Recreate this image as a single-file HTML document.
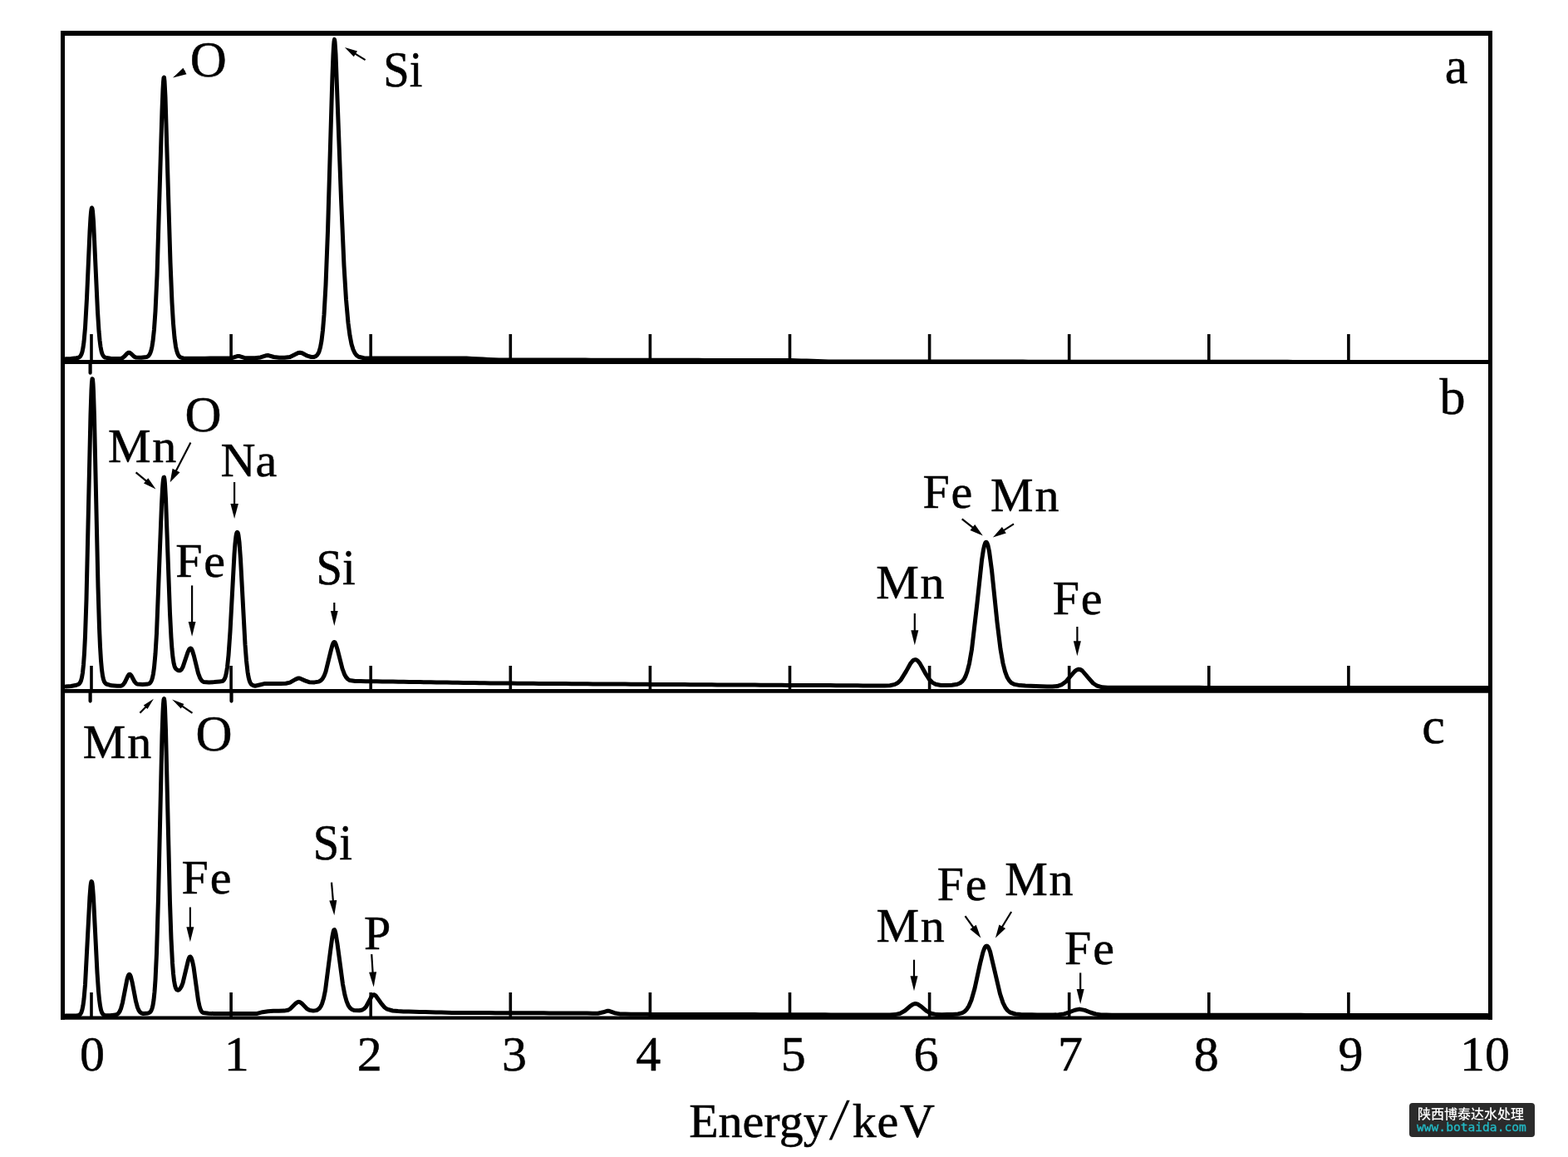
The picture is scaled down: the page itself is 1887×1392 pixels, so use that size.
<!DOCTYPE html>
<html><head><meta charset="utf-8"><title>EDS spectra</title>
<style>html,body{margin:0;padding:0;background:#fff;}svg{display:block;}</style>
</head><body><svg width="1887" height="1392" viewBox="0 0 1887 1392"><path d="M79.0 431.7 L85.5 431.5 L92.0 430.8 L94.5 430.2 L96.0 429.3 L97.0 428.1 L98.0 426.2 L99.0 423.2 L100.0 418.3 L101.0 411.1 L102.5 394.3 L104.5 358.9 L108.0 278.8 L109.0 261.6 L109.5 255.6 L110.0 251.7 L110.5 250.0 L111.0 250.8 L111.5 253.8 L112.5 266.1 L117.5 374.8 L119.0 398.3 L120.0 409.3 L121.0 417.1 L122.0 422.4 L123.0 425.7 L124.0 427.8 L125.0 429.1 L126.5 430.1 L133.0 431.3 L139.5 431.6 L145.0 431.6 L147.5 430.6 L150.0 428.5 L153.0 425.2 L154.0 424.5 L155.0 424.2 L156.0 424.3 L157.5 425.3 L161.5 429.1 L163.5 430.0 L170.0 430.2 L176.5 429.4 L178.0 428.7 L179.0 427.8 L180.0 426.4 L181.0 424.3 L182.0 421.2 L183.0 416.7 L184.0 410.4 L185.5 396.2 L187.0 374.6 L189.0 331.6 L195.0 132.8 L196.0 107.8 L196.5 99.1 L197.0 93.7 L197.5 93.1 L198.0 97.7 L199.0 116.8 L205.0 315.7 L207.0 364.0 L208.5 389.1 L210.0 406.1 L211.5 416.9 L212.5 421.6 L213.5 424.8 L214.5 427.1 L215.5 428.5 L217.0 429.8 L220.5 430.9 L227.0 431.2 L233.5 431.3 L240.0 431.2 L246.5 431.2 L253.0 431.1 L259.5 431.1 L266.0 431.1 L272.5 431.0 L279.0 430.7 L285.5 428.6 L287.5 428.4 L294.0 430.4 L300.5 430.8 L307.0 430.7 L313.5 429.9 L320.0 427.8 L323.0 427.6 L329.5 429.5 L336.0 430.3 L342.5 430.3 L349.0 429.5 L355.5 426.3 L359.0 424.5 L361.0 424.2 L363.5 424.7 L370.0 428.2 L374.5 429.5 L378.0 429.4 L380.0 428.6 L381.5 427.4 L383.0 425.2 L384.0 423.0 L385.5 417.9 L387.0 409.7 L388.5 397.2 L390.0 378.9 L392.0 343.2 L394.5 277.8 L400.0 90.8 L401.0 65.7 L401.5 56.5 L402.0 50.1 L402.5 47.4 L403.0 50.5 L404.0 65.2 L410.5 239.0 L414.0 319.6 L416.5 360.4 L419.0 388.5 L421.0 403.6 L423.0 413.9 L425.0 420.5 L427.0 424.8 L429.0 427.4 L431.5 429.2 L438.0 430.8 L444.5 431.0 L451.0 431.0 L457.5 431.0 L464.0 431.0 L470.5 431.0 L477.0 431.0 L483.5 431.0 L490.0 431.0 L496.5 431.0 L503.0 431.0 L509.5 431.0 L516.0 431.0 L522.5 431.0 L529.0 431.0 L535.5 431.0 L542.0 431.0 L548.5 431.0 L555.0 431.0 L561.5 431.1 L568.0 431.4 L574.5 431.7 L581.0 432.1 L587.5 432.4 L594.0 432.7 L600.5 433.0 L607.0 433.0 L613.5 433.0 L620.0 433.0 L626.5 433.0 L633.0 433.0 L639.5 433.1 L646.0 433.1 L652.5 433.1 L659.0 433.1 L665.5 433.1 L672.0 433.1 L678.5 433.1 L685.0 433.1 L691.5 433.1 L698.0 433.1 L704.5 433.1 L711.0 433.2 L717.5 433.2 L724.0 433.2 L730.5 433.2 L737.0 433.2 L743.5 433.2 L750.0 433.2 L756.5 433.2 L763.0 433.2 L769.5 433.2 L776.0 433.3 L782.5 433.3 L789.0 433.3 L795.5 433.3 L802.0 433.3 L808.5 433.3 L815.0 433.3 L821.5 433.3 L828.0 433.3 L834.5 433.3 L841.0 433.3 L847.5 433.4 L854.0 433.4 L860.5 433.4 L867.0 433.4 L873.5 433.4 L880.0 433.4 L886.5 433.4 L893.0 433.4 L899.5 433.4 L906.0 433.4 L912.5 433.4 L919.0 433.5 L925.5 433.5 L932.0 433.5 L938.5 433.5 L945.0 433.5 L951.5 433.5 L958.0 433.7 L964.5 433.9 L971.0 434.1 L977.5 434.3 L984.0 434.5 L990.5 434.7 L997.0 434.9 L1003.5 435.0 L1010.0 435.0 L1016.5 435.0 L1023.0 435.0 L1029.5 435.0 L1036.0 435.0 L1042.5 435.0 L1049.0 435.0 L1055.5 435.0 L1062.0 435.0 L1068.5 435.0 L1075.0 435.0 L1081.5 435.1 L1088.0 435.1 L1094.5 435.1 L1101.0 435.1 L1107.5 435.1 L1114.0 435.1 L1120.5 435.1 L1127.0 435.1 L1133.5 435.1 L1140.0 435.1 L1146.5 435.1 L1153.0 435.1 L1159.5 435.1 L1166.0 435.1 L1172.5 435.1 L1179.0 435.1 L1185.5 435.1 L1192.0 435.1 L1198.5 435.1 L1205.0 435.1 L1211.5 435.1 L1218.0 435.1 L1224.5 435.1 L1231.0 435.1 L1237.5 435.2 L1244.0 435.2 L1250.5 435.2 L1257.0 435.2 L1263.5 435.2 L1270.0 435.2 L1276.5 435.2 L1283.0 435.2 L1289.5 435.2 L1296.0 435.2 L1302.5 435.2 L1309.0 435.2 L1315.5 435.2 L1322.0 435.2 L1328.5 435.2 L1335.0 435.2 L1341.5 435.2 L1348.0 435.2 L1354.5 435.2 L1361.0 435.2 L1367.5 435.2 L1374.0 435.2 L1380.5 435.2 L1387.0 435.2 L1393.5 435.2 L1400.0 435.3 L1406.5 435.3 L1413.0 435.3 L1419.5 435.3 L1426.0 435.3 L1432.5 435.3 L1439.0 435.3 L1445.5 435.3 L1452.0 435.3 L1458.5 435.3 L1465.0 435.3 L1471.5 435.3 L1478.0 435.3 L1484.5 435.3 L1491.0 435.3 L1497.5 435.3 L1504.0 435.3 L1510.5 435.3 L1517.0 435.3 L1523.5 435.3 L1530.0 435.3 L1536.5 435.3 L1543.0 435.3 L1549.5 435.3 L1556.0 435.4 L1562.5 435.4 L1569.0 435.4 L1575.5 435.4 L1582.0 435.4 L1588.5 435.4 L1595.0 435.4 L1601.5 435.4 L1608.0 435.4 L1614.5 435.4 L1621.0 435.4 L1627.5 435.4 L1634.0 435.4 L1640.5 435.4 L1647.0 435.4 L1653.5 435.4 L1660.0 435.4 L1666.5 435.4 L1673.0 435.4 L1679.5 435.4 L1686.0 435.4 L1692.5 435.4 L1699.0 435.4 L1705.5 435.4 L1712.0 435.5 L1718.5 435.5 L1725.0 435.5 L1731.5 435.5 L1738.0 435.5 L1744.5 435.5 L1751.0 435.5 L1757.5 435.5 L1764.0 435.5 L1770.5 435.5 L1777.0 435.5 L1783.5 435.5 L1790.0 435.5" fill="none" stroke="#000" stroke-width="5" stroke-linejoin="round" stroke-linecap="round"/><path d="M79.0 826.0 L85.5 825.5 L92.0 824.3 L94.5 823.3 L95.5 822.4 L96.5 821.1 L97.5 818.9 L98.5 815.2 L99.5 809.3 L100.5 799.8 L101.5 785.6 L102.5 765.3 L104.0 720.9 L109.0 498.5 L110.0 468.9 L110.5 460.0 L111.0 455.8 L111.5 456.2 L112.0 461.4 L112.5 471.1 L113.5 502.2 L118.0 706.0 L119.5 754.9 L120.5 778.1 L121.5 794.6 L122.5 805.7 L123.5 812.9 L124.5 817.4 L125.5 820.1 L126.5 821.7 L128.0 823.0 L134.5 824.8 L141.0 825.3 L145.0 825.3 L147.0 824.6 L148.5 823.3 L150.0 821.3 L154.0 813.1 L155.0 811.7 L155.5 811.4 L156.0 811.2 L156.5 811.3 L157.0 811.6 L158.0 812.8 L162.0 820.2 L163.5 822.0 L165.0 823.0 L171.5 823.4 L178.0 823.0 L179.5 822.5 L180.5 821.7 L181.5 820.5 L182.5 818.5 L183.5 815.3 L184.5 810.4 L185.5 803.2 L187.0 786.8 L188.5 762.1 L194.5 607.2 L195.5 588.3 L196.0 581.6 L196.5 576.9 L197.0 574.4 L197.5 574.2 L198.0 576.8 L198.5 582.1 L199.5 600.1 L204.5 737.8 L206.0 767.2 L207.0 781.1 L208.0 790.9 L209.0 797.4 L210.0 801.4 L211.0 803.7 L212.0 805.0 L214.0 806.3 L215.5 806.8 L216.5 806.7 L217.5 806.2 L218.5 805.2 L220.0 802.6 L226.0 784.7 L227.5 781.5 L228.5 780.4 L229.0 780.1 L229.5 780.1 L230.0 780.3 L230.5 780.8 L231.5 782.8 L233.5 789.5 L238.5 809.8 L240.5 815.2 L242.0 817.9 L243.5 819.5 L245.0 820.5 L251.5 821.1 L258.0 820.6 L264.5 819.9 L267.5 819.6 L268.5 819.0 L269.5 818.0 L270.5 816.3 L271.5 813.5 L272.5 809.1 L273.5 802.8 L275.0 788.6 L277.0 760.0 L282.0 666.8 L283.0 653.7 L284.0 644.9 L284.5 642.3 L285.0 640.8 L285.5 640.3 L286.0 640.6 L286.5 641.8 L287.0 644.2 L288.0 652.3 L289.5 672.6 L295.0 775.4 L296.5 795.0 L298.0 808.3 L299.0 814.3 L300.0 818.4 L301.0 821.0 L302.0 822.7 L303.0 823.8 L305.0 824.8 L307.0 825.2 L313.5 823.7 L318.0 822.6 L324.5 822.6 L331.0 822.5 L337.5 822.5 L344.0 822.2 L349.0 821.1 L355.5 817.4 L358.5 816.1 L360.5 816.0 L367.0 818.9 L372.0 820.7 L378.5 820.9 L383.5 820.1 L386.0 818.7 L388.0 816.7 L390.0 813.3 L392.0 808.1 L398.5 781.6 L400.0 776.3 L401.0 773.8 L401.5 772.9 L402.0 772.4 L402.5 772.4 L403.0 772.8 L404.0 774.6 L406.0 780.9 L412.0 804.5 L414.5 811.2 L416.5 814.8 L418.5 817.0 L421.0 818.6 L427.5 819.5 L434.0 819.6 L440.5 819.7 L447.0 819.7 L453.5 819.8 L460.0 819.9 L466.5 820.0 L473.0 820.1 L479.5 820.2 L486.0 820.3 L492.5 820.4 L499.0 820.5 L505.5 820.6 L512.0 820.7 L518.5 820.8 L525.0 820.9 L531.5 821.0 L538.0 821.1 L544.5 821.2 L551.0 821.3 L557.5 821.4 L564.0 821.5 L570.5 821.6 L577.0 821.7 L583.5 821.8 L590.0 821.9 L596.5 821.9 L603.0 822.0 L609.5 822.1 L616.0 822.1 L622.5 822.2 L629.0 822.2 L635.5 822.3 L642.0 822.3 L648.5 822.4 L655.0 822.4 L661.5 822.5 L668.0 822.5 L674.5 822.6 L681.0 822.6 L687.5 822.7 L694.0 822.7 L700.5 822.8 L707.0 822.8 L713.5 822.9 L720.0 822.9 L726.5 822.9 L733.0 823.0 L739.5 823.0 L746.0 823.1 L752.5 823.1 L759.0 823.2 L765.5 823.2 L772.0 823.3 L778.5 823.3 L785.0 823.4 L791.5 823.4 L798.0 823.5 L804.5 823.5 L811.0 823.6 L817.5 823.6 L824.0 823.6 L830.5 823.7 L837.0 823.7 L843.5 823.8 L850.0 823.8 L856.5 823.8 L863.0 823.9 L869.5 823.9 L876.0 823.9 L882.5 824.0 L889.0 824.0 L895.5 824.1 L902.0 824.1 L908.5 824.1 L915.0 824.2 L921.5 824.2 L928.0 824.2 L934.5 824.3 L941.0 824.3 L947.5 824.4 L954.0 824.4 L960.5 824.4 L967.0 824.5 L973.5 824.5 L980.0 824.5 L986.5 824.6 L993.0 824.6 L999.5 824.6 L1006.0 824.7 L1012.5 824.7 L1019.0 824.8 L1025.5 824.8 L1032.0 824.8 L1038.5 824.9 L1045.0 824.9 L1051.5 824.9 L1058.0 825.0 L1064.5 825.0 L1071.0 824.7 L1077.0 823.4 L1080.5 821.5 L1084.0 818.1 L1090.5 807.6 L1096.0 797.8 L1098.5 794.9 L1100.0 793.9 L1101.5 793.6 L1103.0 794.0 L1104.5 795.0 L1107.0 798.1 L1113.5 809.8 L1118.5 817.6 L1122.0 821.1 L1126.0 823.3 L1132.5 824.5 L1139.0 824.6 L1145.5 824.2 L1152.0 823.3 L1155.5 821.8 L1158.0 819.8 L1160.0 817.3 L1162.0 813.5 L1164.0 808.0 L1166.5 798.3 L1169.5 781.3 L1176.0 725.4 L1181.5 674.2 L1183.5 661.2 L1184.5 656.7 L1185.5 653.7 L1186.0 652.8 L1186.5 652.3 L1187.0 652.3 L1187.5 652.7 L1188.0 653.5 L1189.0 656.3 L1190.5 663.4 L1193.5 685.8 L1200.0 748.6 L1204.0 780.8 L1207.0 798.0 L1209.5 807.9 L1212.0 814.6 L1214.5 818.8 L1217.0 821.4 L1221.0 823.4 L1227.5 824.6 L1234.0 825.1 L1240.5 825.3 L1247.0 825.5 L1253.5 825.7 L1260.0 825.9 L1266.5 825.9 L1273.0 825.4 L1278.0 823.6 L1282.5 820.3 L1289.0 812.7 L1293.5 807.6 L1296.0 805.8 L1298.0 805.2 L1300.0 805.5 L1302.5 807.0 L1309.0 814.6 L1315.5 822.0 L1320.0 825.0 L1326.5 826.8 L1333.0 827.2 L1339.5 827.3 L1346.0 827.3 L1352.5 827.3 L1359.0 827.3 L1365.5 827.3 L1372.0 827.3 L1378.5 827.3 L1385.0 827.3 L1391.5 827.3 L1398.0 827.3 L1404.5 827.3 L1411.0 827.3 L1417.5 827.3 L1424.0 827.3 L1430.5 827.3 L1437.0 827.3 L1443.5 827.3 L1450.0 827.4 L1456.5 827.4 L1463.0 827.4 L1469.5 827.4 L1476.0 827.4 L1482.5 827.4 L1489.0 827.4 L1495.5 827.4 L1502.0 827.4 L1508.5 827.4 L1515.0 827.4 L1521.5 827.4 L1528.0 827.4 L1534.5 827.4 L1541.0 827.4 L1547.5 827.4 L1554.0 827.4 L1560.5 827.4 L1567.0 827.4 L1573.5 827.4 L1580.0 827.4 L1586.5 827.4 L1593.0 827.4 L1599.5 827.4 L1606.0 827.4 L1612.5 827.4 L1619.0 827.4 L1625.5 827.4 L1632.0 827.4 L1638.5 827.4 L1645.0 827.4 L1651.5 827.4 L1658.0 827.4 L1664.5 827.4 L1671.0 827.4 L1677.5 827.5 L1684.0 827.5 L1690.5 827.5 L1697.0 827.5 L1703.5 827.5 L1710.0 827.5 L1716.5 827.5 L1723.0 827.5 L1729.5 827.5 L1736.0 827.5 L1742.5 827.5 L1749.0 827.5 L1755.5 827.5 L1762.0 827.5 L1768.5 827.5 L1775.0 827.5 L1781.5 827.5 L1788.0 827.5 L1790.0 827.5" fill="none" stroke="#000" stroke-width="5" stroke-linejoin="round" stroke-linecap="round"/><path d="M79.0 1222.0 L85.5 1222.0 L92.0 1221.9 L94.5 1221.6 L96.0 1220.8 L97.0 1219.7 L98.0 1217.8 L99.0 1214.6 L100.0 1209.5 L101.0 1201.9 L102.5 1184.5 L108.0 1078.6 L109.0 1066.0 L109.5 1062.3 L110.0 1060.5 L110.5 1060.7 L111.0 1062.9 L111.5 1067.0 L112.5 1080.1 L117.0 1170.2 L118.5 1192.3 L119.5 1202.7 L120.5 1210.0 L121.5 1214.9 L122.5 1218.0 L123.5 1219.8 L124.5 1220.8 L126.0 1221.5 L132.5 1221.7 L139.0 1221.1 L141.0 1220.4 L142.5 1219.1 L144.0 1217.0 L145.5 1213.5 L147.5 1206.3 L153.0 1178.0 L154.0 1174.6 L154.5 1173.4 L155.0 1172.7 L155.5 1172.3 L156.0 1172.4 L156.5 1173.0 L157.5 1175.3 L159.0 1181.3 L163.5 1204.7 L165.5 1212.0 L167.0 1215.5 L168.5 1217.7 L170.0 1218.8 L172.5 1219.5 L178.0 1219.0 L180.0 1218.2 L181.0 1217.3 L182.0 1215.8 L183.0 1213.4 L184.0 1209.4 L185.0 1203.0 L186.0 1193.3 L187.0 1179.1 L188.5 1146.9 L190.5 1080.4 L195.0 884.9 L196.0 856.4 L196.5 847.2 L197.0 841.8 L197.5 840.5 L198.0 843.6 L198.5 851.3 L199.5 878.5 L204.5 1085.7 L206.0 1129.3 L207.5 1158.5 L208.5 1171.3 L209.5 1179.9 L210.5 1185.4 L211.5 1188.7 L212.5 1190.4 L213.0 1190.9 L213.5 1191.2 L214.5 1191.2 L215.5 1190.7 L217.0 1189.1 L218.5 1186.5 L220.0 1182.7 L226.5 1155.3 L227.5 1152.5 L228.0 1151.6 L228.5 1151.1 L229.0 1151.0 L229.5 1151.3 L230.5 1153.2 L231.5 1156.2 L233.0 1163.4 L238.5 1203.3 L240.0 1210.6 L241.0 1213.8 L242.0 1216.0 L243.0 1217.4 L244.5 1218.5 L251.0 1219.3 L257.5 1219.4 L264.0 1219.5 L270.5 1219.5 L277.0 1219.5 L283.5 1219.5 L290.0 1219.5 L296.5 1219.4 L303.0 1219.4 L309.5 1219.4 L316.0 1217.7 L322.5 1216.8 L329.0 1216.3 L335.5 1216.2 L342.0 1216.1 L346.5 1215.3 L349.5 1213.6 L356.0 1207.1 L358.0 1205.7 L359.5 1205.3 L361.0 1205.7 L363.0 1207.1 L369.5 1213.7 L372.5 1215.4 L377.0 1216.1 L380.5 1215.6 L382.5 1214.7 L384.5 1213.0 L386.0 1210.9 L387.5 1207.7 L389.5 1201.2 L391.5 1191.5 L398.0 1141.0 L400.0 1126.4 L401.0 1121.4 L401.5 1119.7 L402.0 1118.7 L402.5 1118.6 L403.0 1119.5 L404.0 1123.1 L406.0 1135.3 L412.5 1184.1 L415.0 1197.2 L417.0 1204.4 L419.0 1209.3 L421.0 1212.4 L423.0 1214.2 L426.0 1215.5 L432.5 1215.8 L436.0 1215.0 L438.5 1213.4 L440.5 1211.2 L447.0 1199.2 L448.0 1197.7 L449.0 1196.9 L449.5 1196.7 L450.5 1196.8 L452.0 1197.8 L458.5 1206.8 L462.5 1211.7 L466.0 1214.2 L472.5 1216.0 L479.0 1216.6 L485.5 1216.9 L492.0 1217.1 L498.5 1217.3 L505.0 1217.5 L511.5 1217.6 L518.0 1217.8 L524.5 1217.9 L531.0 1218.1 L537.5 1218.2 L544.0 1218.4 L550.5 1218.5 L557.0 1218.5 L563.5 1218.5 L570.0 1218.6 L576.5 1218.6 L583.0 1218.6 L589.5 1218.6 L596.0 1218.7 L602.5 1218.7 L609.0 1218.7 L615.5 1218.7 L622.0 1218.7 L628.5 1218.8 L635.0 1218.8 L641.5 1218.8 L648.0 1218.8 L654.5 1218.8 L661.0 1218.9 L667.5 1218.9 L674.0 1218.9 L680.5 1218.9 L687.0 1219.0 L693.5 1219.0 L700.0 1219.0 L706.5 1219.1 L713.0 1219.3 L719.5 1219.2 L726.0 1217.8 L730.5 1216.3 L733.0 1216.3 L739.5 1218.7 L746.0 1219.9 L752.5 1220.1 L759.0 1220.3 L765.5 1220.3 L772.0 1220.3 L778.5 1220.3 L785.0 1220.4 L791.5 1220.4 L798.0 1220.4 L804.5 1220.4 L811.0 1220.4 L817.5 1220.4 L824.0 1220.4 L830.5 1220.5 L837.0 1220.5 L843.5 1220.5 L850.0 1220.5 L856.5 1220.5 L863.0 1220.5 L869.5 1220.6 L876.0 1220.6 L882.5 1220.6 L889.0 1220.6 L895.5 1220.6 L902.0 1220.6 L908.5 1220.6 L915.0 1220.7 L921.5 1220.7 L928.0 1220.7 L934.5 1220.7 L941.0 1220.7 L947.5 1220.7 L954.0 1220.8 L960.5 1220.8 L967.0 1220.8 L973.5 1220.8 L980.0 1220.8 L986.5 1220.8 L993.0 1220.8 L999.5 1220.9 L1006.0 1220.9 L1012.5 1220.9 L1019.0 1220.9 L1025.5 1220.9 L1032.0 1220.9 L1038.5 1220.9 L1045.0 1221.0 L1051.5 1221.0 L1058.0 1221.0 L1064.5 1221.0 L1071.0 1220.9 L1077.5 1220.6 L1083.5 1219.2 L1089.0 1216.0 L1095.5 1210.3 L1099.0 1208.1 L1101.5 1207.5 L1104.0 1207.9 L1108.5 1210.8 L1115.0 1216.4 L1120.5 1219.3 L1127.0 1220.6 L1133.5 1220.7 L1140.0 1220.6 L1146.5 1220.5 L1153.0 1219.9 L1158.0 1218.6 L1161.0 1216.8 L1163.5 1214.2 L1166.0 1210.3 L1169.0 1203.2 L1173.0 1189.2 L1179.5 1159.4 L1183.0 1145.5 L1184.5 1141.4 L1185.5 1139.5 L1186.5 1138.4 L1187.0 1138.2 L1187.5 1138.1 L1188.0 1138.2 L1189.0 1139.1 L1190.0 1140.8 L1191.5 1144.6 L1198.0 1172.2 L1203.5 1195.8 L1207.0 1206.4 L1210.0 1212.4 L1212.5 1215.6 L1215.5 1218.0 L1222.0 1220.0 L1228.5 1220.5 L1235.0 1220.7 L1241.5 1220.8 L1248.0 1220.9 L1254.5 1221.0 L1261.0 1221.0 L1267.5 1221.0 L1274.0 1220.8 L1280.5 1219.9 L1287.0 1217.8 L1293.5 1215.2 L1299.0 1214.1 L1305.5 1215.4 L1312.0 1218.0 L1318.5 1220.0 L1325.0 1220.9 L1331.5 1221.1 L1338.0 1221.2 L1344.5 1221.2 L1351.0 1221.2 L1357.5 1221.2 L1364.0 1221.2 L1370.5 1221.2 L1377.0 1221.2 L1383.5 1221.2 L1390.0 1221.2 L1396.5 1221.2 L1403.0 1221.2 L1409.5 1221.2 L1416.0 1221.2 L1422.5 1221.2 L1429.0 1221.3 L1435.5 1221.3 L1442.0 1221.3 L1448.5 1221.3 L1455.0 1221.3 L1461.5 1221.3 L1468.0 1221.3 L1474.5 1221.3 L1481.0 1221.3 L1487.5 1221.3 L1494.0 1221.3 L1500.5 1221.3 L1507.0 1221.3 L1513.5 1221.3 L1520.0 1221.3 L1526.5 1221.3 L1533.0 1221.3 L1539.5 1221.3 L1546.0 1221.3 L1552.5 1221.3 L1559.0 1221.3 L1565.5 1221.3 L1572.0 1221.4 L1578.5 1221.4 L1585.0 1221.4 L1591.5 1221.4 L1598.0 1221.4 L1604.5 1221.4 L1611.0 1221.4 L1617.5 1221.4 L1624.0 1221.4 L1630.5 1221.4 L1637.0 1221.4 L1643.5 1221.4 L1650.0 1221.4 L1656.5 1221.4 L1663.0 1221.4 L1669.5 1221.4 L1676.0 1221.4 L1682.5 1221.4 L1689.0 1221.4 L1695.5 1221.4 L1702.0 1221.4 L1708.5 1221.4 L1715.0 1221.4 L1721.5 1221.5 L1728.0 1221.5 L1734.5 1221.5 L1741.0 1221.5 L1747.5 1221.5 L1754.0 1221.5 L1760.5 1221.5 L1767.0 1221.5 L1773.5 1221.5 L1780.0 1221.5 L1786.5 1221.5 L1790.0 1221.5" fill="none" stroke="#000" stroke-width="5" stroke-linejoin="round" stroke-linecap="round"/><g stroke="#000" fill="none"><path d="M73 40H1796" stroke-width="6"/><path d="M73 1224.6H1796" stroke-width="4.2"/><path d="M75.5 37V1226.7M1793.5 37V1226.7" stroke-width="5"/><path d="M73 435.5H1796" stroke-width="5"/><path d="M73 831.4H1796" stroke-width="4.8"/></g><path d="M110.0 402V435M110.0 801V831M110.0 1194V1224M278.1 402V435M278.1 801V831M278.1 1194V1224M446.2 402V435M446.2 801V831M446.2 1194V1224M614.3 402V435M614.3 801V831M614.3 1194V1224M782.4 402V435M782.4 801V831M782.4 1194V1224M950.5 402V435M950.5 801V831M950.5 1194V1224M1118.6 402V435M1118.6 801V831M1118.6 1194V1224M1286.7 402V435M1286.7 801V831M1286.7 1194V1224M1454.8 402V435M1454.8 801V831M1454.8 1194V1224M1622.9 402V435M1622.9 801V831M1622.9 1194V1224" stroke="#000" stroke-width="3.6" fill="none"/><path d="M108.6 436V448.7M108.6 832V843.6M278.5 832V843.6" stroke="#000" stroke-width="4.2" stroke-linecap="round" fill="none"/><g font-family="Liberation Serif, serif" fill="#000" stroke="#000" stroke-width="0.5"><text x="228.8" y="91.9" font-size="61" text-anchor="start">O</text><text x="0" y="0" font-size="58" transform="translate(461.2 104.4) scale(0.975 1.07)">Si</text><text x="1738.7" y="99.9" font-size="62" text-anchor="start">a</text><text x="129.9" y="556.0" font-size="58" text-anchor="start" letter-spacing="1.8">Mn</text><text x="222.4" y="518.9" font-size="61" text-anchor="start">O</text><text x="265.6" y="573.0" font-size="58" text-anchor="start">Na</text><text x="211.2" y="694.0" font-size="58" text-anchor="start" letter-spacing="1.9">Fe</text><text x="0" y="0" font-size="58" transform="translate(380.6 703.4) scale(0.975 1.07)">Si</text><text x="1110.4" y="611.0" font-size="58" text-anchor="start" letter-spacing="1.9">Fe</text><text x="1192.1" y="614.5" font-size="58" text-anchor="start" letter-spacing="1.8">Mn</text><text x="1054.2" y="719.5" font-size="58" text-anchor="start" letter-spacing="1.8">Mn</text><text x="1266.7" y="738.5" font-size="58" text-anchor="start" letter-spacing="1.9">Fe</text><text x="1732.5" y="498.0" font-size="62" text-anchor="start">b</text><text x="99.8" y="911.5" font-size="58" text-anchor="start" letter-spacing="1.8">Mn</text><text x="235.6" y="902.9" font-size="61" text-anchor="start">O</text><text x="218.6" y="1075.0" font-size="58" text-anchor="start" letter-spacing="1.9">Fe</text><text x="0" y="0" font-size="58" transform="translate(376.8 1034.4) scale(0.975 1.07)">Si</text><text x="438.0" y="1142.0" font-size="58" text-anchor="start">P</text><text x="1054.4" y="1132.5" font-size="58" text-anchor="start" letter-spacing="1.8">Mn</text><text x="1127.7" y="1082.5" font-size="58" text-anchor="start" letter-spacing="1.9">Fe</text><text x="1209.2" y="1077.0" font-size="58" text-anchor="start" letter-spacing="1.8">Mn</text><text x="1281.1" y="1159.5" font-size="58" text-anchor="start" letter-spacing="1.9">Fe</text><text x="1711.3" y="893.9" font-size="62" text-anchor="start">c</text><text x="111.1" y="1288.0" font-size="60" text-anchor="middle">0</text><text x="284.7" y="1288.0" font-size="60" text-anchor="middle">1</text><text x="444.8" y="1288.0" font-size="60" text-anchor="middle">2</text><text x="619.0" y="1288.0" font-size="60" text-anchor="middle">3</text><text x="780.2" y="1288.0" font-size="60" text-anchor="middle">4</text><text x="954.7" y="1288.0" font-size="60" text-anchor="middle">5</text><text x="1114.6" y="1288.0" font-size="60" text-anchor="middle">6</text><text x="1288.0" y="1288.0" font-size="60" text-anchor="middle">7</text><text x="1451.8" y="1288.0" font-size="60" text-anchor="middle">8</text><text x="1625.6" y="1288.0" font-size="60" text-anchor="middle">9</text><text x="1786.9" y="1288.0" font-size="60" text-anchor="middle">10</text><text x="829.2" y="1368.0" font-size="58" text-anchor="start">Energy</text><text x="0" y="0" font-size="58" stroke="none" font-family="WenQuanYi Zen Hei, Liberation Sans, sans-serif" transform="translate(996.5 1361.8) scale(0.9 0.964)">/</text><text x="1025.8 1055.5 1083.0" y="1368" font-size="58">keV</text></g><line x1="222.6" y1="85.5" x2="220.7" y2="86.5" stroke="#000" stroke-width="2.2"/><polygon points="220.4,81.8 208.0,93.5 224.5,89.3" fill="#000"/><line x1="439.6" y1="72.1" x2="426.2" y2="63.9" stroke="#000" stroke-width="2.2"/><polygon points="430.0,61.5 414.9,57.0 425.8,68.3" fill="#000"/><line x1="163.6" y1="568.3" x2="177.2" y2="579.7" stroke="#000" stroke-width="2.2"/><polygon points="173.0,581.6 187.5,588.4 178.3,575.3" fill="#000"/><line x1="229.4" y1="532.4" x2="211.2" y2="567.8" stroke="#000" stroke-width="2.2"/><polygon points="207.6,563.7 204.7,580.3 216.5,568.3" fill="#000"/><line x1="282.1" y1="580.0" x2="282.1" y2="608.0" stroke="#000" stroke-width="2.2"/><polygon points="277.4,606.0 282.1,624.0 286.9,606.0" fill="#000"/><line x1="231.1" y1="704.4" x2="231.1" y2="750.1" stroke="#000" stroke-width="2.2"/><polygon points="226.7,748.1 231.1,765.8 235.5,748.1" fill="#000"/><line x1="402.3" y1="725.0" x2="402.3" y2="737.0" stroke="#000" stroke-width="2.2"/><polygon points="397.9,735.0 402.3,753.0 406.7,735.0" fill="#000"/><line x1="1157.7" y1="624.3" x2="1171.9" y2="635.7" stroke="#000" stroke-width="2.2"/><polygon points="1167.5,638.0 1182.8,644.5 1173.2,631.0" fill="#000"/><line x1="1220.0" y1="630.4" x2="1206.7" y2="638.9" stroke="#000" stroke-width="2.2"/><polygon points="1205.9,634.1 1194.9,646.5 1210.8,641.6" fill="#000"/><line x1="1100.8" y1="738.0" x2="1100.8" y2="760.2" stroke="#000" stroke-width="2.2"/><polygon points="1096.3,758.2 1100.8,776.2 1105.3,758.2" fill="#000"/><line x1="1296.4" y1="754.0" x2="1296.4" y2="773.2" stroke="#000" stroke-width="2.2"/><polygon points="1291.9,771.2 1296.4,789.2 1300.9,771.2" fill="#000"/><line x1="168.4" y1="857.8" x2="176.5" y2="849.4" stroke="#000" stroke-width="2.2"/><polygon points="177.5,853.1 184.9,840.8 172.8,848.6" fill="#000"/><line x1="231.5" y1="857.8" x2="217.9" y2="848.7" stroke="#000" stroke-width="2.2"/><polygon points="221.4,847.1 207.1,841.4 217.7,852.5" fill="#000"/><line x1="228.9" y1="1091.5" x2="228.9" y2="1117.2" stroke="#000" stroke-width="2.2"/><polygon points="224.4,1115.2 228.9,1133.2 233.4,1115.2" fill="#000"/><line x1="399.0" y1="1061.7" x2="401.0" y2="1085.3" stroke="#000" stroke-width="2.2"/><polygon points="396.3,1083.6 402.3,1101.2 405.3,1082.9" fill="#000"/><line x1="447.2" y1="1148.0" x2="448.7" y2="1171.5" stroke="#000" stroke-width="2.2"/><polygon points="444.1,1169.8 449.7,1187.5 453.1,1169.3" fill="#000"/><line x1="1100.0" y1="1154.7" x2="1100.0" y2="1176.3" stroke="#000" stroke-width="2.2"/><polygon points="1095.5,1174.3 1100.0,1192.3 1104.5,1174.3" fill="#000"/><line x1="1161.5" y1="1102.2" x2="1172.2" y2="1117.0" stroke="#000" stroke-width="2.2"/><polygon points="1167.4,1118.1 1180.4,1128.4 1174.7,1112.8" fill="#000"/><line x1="1217.1" y1="1097.0" x2="1205.2" y2="1116.5" stroke="#000" stroke-width="2.2"/><polygon points="1202.4,1112.4 1197.9,1128.4 1210.1,1117.1" fill="#000"/><line x1="1300.2" y1="1170.4" x2="1300.2" y2="1192.0" stroke="#000" stroke-width="2.2"/><polygon points="1295.7,1190.0 1300.2,1208.0 1304.7,1190.0" fill="#000"/><rect x="1696" y="1327" width="151" height="41" rx="4" fill="#2b2b2b"/><text x="1706" y="1346" font-size="16" font-weight="500" fill="#fff" font-family="Liberation Sans, Noto Sans CJK SC, sans-serif">陕西博泰达水处理</text><text x="1705" y="1361" font-size="14.6" fill="#22b8c4" stroke="#22b8c4" stroke-width="0.35" font-family="DejaVu Sans Mono, Liberation Mono, monospace">www.botaida.com</text></svg></body></html>
